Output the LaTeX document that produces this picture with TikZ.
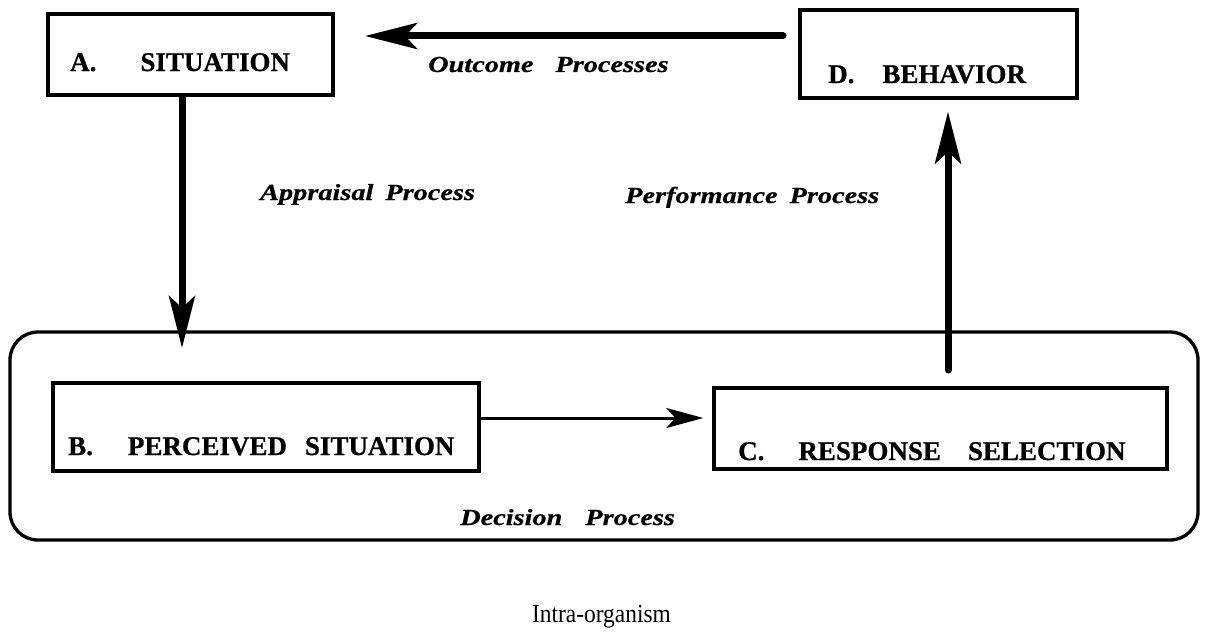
\documentclass[tikz,border=0pt]{standalone}
\usepackage{fontspec}
\setmainfont{Liberation Serif}
\newfontfamily\bxfam[FakeBold=0.8]{Liberation Serif}
\newfontfamily\lbfam[FakeStretch=1.23,FakeBold=0.6]{Liberation Serif}
\newfontfamily\orgfam[FakeStretch=0.9]{Liberation Serif}
\newcommand\bxfont{\bxfam\fontsize{27pt}{30pt}\selectfont\bfseries}
\newcommand\lbfont{\lbfam\fontsize{23pt}{26pt}\selectfont\bfseries\itshape}
\newcommand\orgfont{\orgfam\fontsize{26pt}{29pt}\selectfont}
\usetikzlibrary{arrows.meta}
\begin{document}
\begin{tikzpicture}[x=1pt,y=-1pt,
  boxnode/.style={draw, line width=3.3pt, inner sep=0pt},
  boxtxt/.style={anchor=base west, inner sep=0pt, font=\bxfont},
  labtxt/.style={anchor=base west, inner sep=0pt, font=\lbfont},
  bigarrow/.style={line width=7pt, line cap=round, -{Stealth[length=52pt,width=26pt,inset=12pt]}},
  smallarrow/.style={line width=3pt, line cap=round, -{Stealth[length=37pt,width=20pt,inset=9pt]}}]
\useasboundingbox (0,0) rectangle (1205,634);
% boxes
\node[boxnode, minimum width=285pt, minimum height=81pt] (A) at (190.5,54.5) {};
\node[boxnode, minimum width=277pt, minimum height=88pt] (D) at (938.5,54) {};
\node[boxnode, rounded corners=28pt, minimum width=1188pt, minimum height=208pt] (org) at (604,436) {};
\node[boxnode, minimum width=426pt, minimum height=88pt] (B) at (266,427) {};
\node[boxnode, minimum width=453pt, minimum height=81pt] (C) at (940.5,428.5) {};
% box texts
\node[boxtxt] (At) at (70,71) {A.\hspace{44pt}SITUATION};
\node[boxtxt] (Dt) at (828,83) {D.\hspace{28pt}BEHAVIOR};
\node[boxtxt] (Bt) at (68,455) {B.\hspace{35pt}PERCEIVED\hspace{18pt}SITUATION};
\node[boxtxt] (Ct) at (738,460) {C.\hspace{34pt}RESPONSE\hspace{27pt}SELECTION};
% labels
\node[labtxt] (out) at (428,72) {Outcome\hspace{22pt}Processes};
\node[labtxt] (app) at (260,200) {Appraisal\hspace{12pt}Process};
\node[labtxt] (perf) at (625,203) {Performance\hspace{12pt}Process};
\node[labtxt] (dec) at (460,525) {Decision\hspace{23pt}Process};
\node[anchor=base west, inner sep=0pt, font=\orgfont] (intra) at (532,622) {Intra-organism};
% connector coordinates
\coordinate (outS) at (783,36);
\coordinate (outE) at (365,36);
\coordinate (ax) at (182,0);
\coordinate (apT) at (182,348);
\coordinate (perS) at (948,370);
\coordinate (bcy) at (0,418);
% connectors
\draw[bigarrow] (outS) -- (outE);
\draw[bigarrow] (A.south -| ax) -- (apT);
\draw[bigarrow, shorten >=12pt] (perS) -- (D.south -| perS);
\draw[smallarrow, shorten >=9pt] (B.east |- bcy) -- (C.west |- bcy);
\end{tikzpicture}
\end{document}
